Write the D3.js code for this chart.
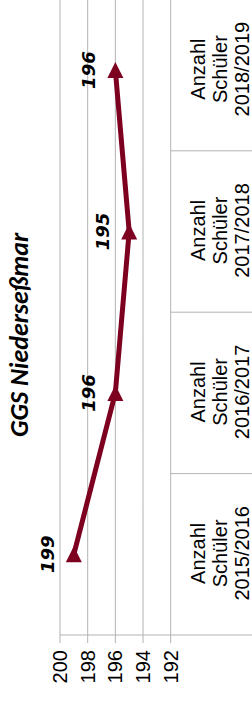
<!DOCTYPE html>
<html>
<head>
<meta charset="utf-8">
<script src="https://cdn.jsdelivr.net/npm/d3@7"></script>
<style>
  body { margin: 0; background: #fff; }
  svg { display: block; }
</style>
</head>
<body>
<svg width="252" height="704"></svg>
<script>
// Daten
let years = ["2015/2016", "2016/2017", "2017/2018", "2018/2019"];
let schueler = [199, 196, 195, 196];
let yTicks = [192, 194, 196, 198, 200];
let labelLines = ["Anzahl", "Schüler"];
let titel = "GGS Niederseßmar";

let W = 704, H = 252; // chart is drawn lying on its side, then turned
let s = d3.select("svg");
let g = s.append("g").attr("transform", "translate(0," + W + ") rotate(-90)");

let x = d3.scaleBand().domain(years).range([69, 714.6]);
let y = d3.scaleLinear().domain([192, 200]).range([170.7, 60]);
let bw = x.bandwidth();
let grid = "#b3b3b3";

// Gitterlinien + Ticks
yTicks.forEach(t => {
    g.append("line")
        .attr("x1", x.range()[0] - 8).attr("x2", x.range()[1])
        .attr("y1", y(t)).attr("y2", y(t))
        .attr("stroke", grid).attr("stroke-width", 1);
    g.append("text")
        .attr("x", 54).attr("y", y(t))
        .attr("text-anchor", "end")
        .attr("dominant-baseline", "central")
        .attr("style", "font-family: 'Liberation Sans', Arial; font-size: 20px")
        .attr("fill", "#000")
        .text(t);
});

// Achse + Kategorie-Trenner
g.append("line")
    .attr("x1", x.range()[0]).attr("x2", x.range()[0])
    .attr("y1", y(200)).attr("y2", H + 5)
    .attr("stroke", grid);
years.slice(1).forEach(d => {
    g.append("line")
        .attr("x1", x(d)).attr("x2", x(d))
        .attr("y1", y(192)).attr("y2", H + 5)
        .attr("stroke", grid);
});

// Kategorie-Beschriftung
years.forEach(d => {
    let t = g.append("text")
        .attr("text-anchor", "middle")
        .attr("style", "font-family: 'Liberation Sans', Arial; font-size: 20px")
        .attr("fill", "#000");
    labelLines.concat([d]).forEach((l, i) => {
        t.append("tspan")
            .attr("x", x(d) + bw / 2 + 1)
            .attr("y", 205 + i * 21.8)
            .text(l);
    });
});

// Titel
g.append("text")
    .attr("x", 369).attr("y", 28)
    .attr("text-anchor", "middle")
    .attr("style", "font-family: Carlito, Lato; font-weight: bold; font-style: italic; font-size: 26px")
    .attr("fill", "#000")
    .text(titel);

// Linie
let pts = years.map((d, i) => ({ year: d, v: schueler[i] }));
let col = "#7e0021";
g.append("path")
    .datum(pts)
    .attr("d", d3.line().x(d => x(d.year) + bw / 2).y(d => y(d.v)))
    .attr("fill", "none")
    .attr("stroke", col)
    .attr("stroke-width", 5);

// Marker (Dreieck)
let tri = 8;
g.selectAll(".marker").data(pts).enter().append("path")
    .attr("class", "marker")
    .attr("transform", d => "translate(" + (x(d.year) + bw / 2) + "," + y(d.v) + ")")
    .attr("d", "M " + tri + " 0 L " + (-tri) + " " + (-tri) + " L " + (-tri) + " " + tri + " Z")
    .attr("fill", col);

// Werte
g.selectAll(".wert").data(pts).enter().append("text")
    .attr("class", "wert")
    .attr("x", d => x(d.year) + bw / 2)
    .attr("y", d => y(d.v) - 20)
    .attr("text-anchor", "middle")
    .attr("style", "font-family: 'DejaVu Sans'; font-weight: bold; font-style: italic; font-size: 18px")
    .attr("fill", "#000")
    .text(d => d.v);
</script>
</body>
</html>
